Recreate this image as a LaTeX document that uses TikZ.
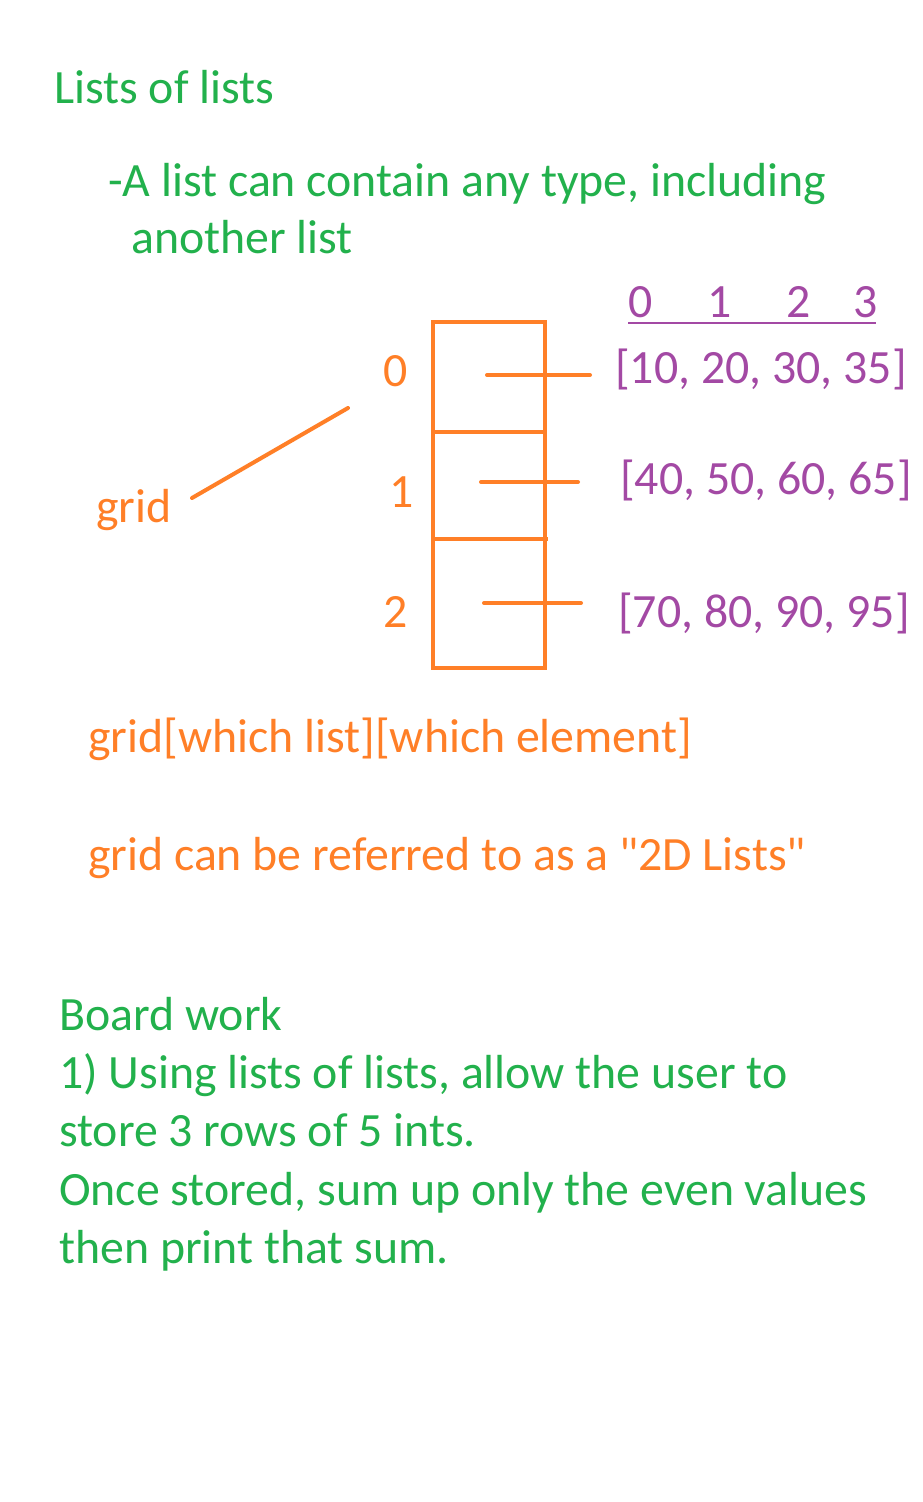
\documentclass[tikz,border=0pt]{standalone}
\usepackage{fontspec}
\setmainfont{Carlito}[Ligatures=TeXOff]
\definecolor{pgreen}{HTML}{22B14C}
\definecolor{porange}{HTML}{FF7F27}
\definecolor{ppurple}{HTML}{A349A4}
\begin{document}
\begin{tikzpicture}[x=1pt,y=-1pt,
  txt/.style={anchor=base west,inner sep=0pt,font=\fontsize{47.8}{56}\selectfont},
  gtxt/.style={txt,text=pgreen},
  otxt/.style={txt,text=porange},
  ptxt/.style={txt,text=ppurple},
  oline/.style={draw=porange,line width=4pt,line cap=round},
  boxline/.style={draw=porange,line width=4pt}]
\useasboundingbox (0,0) rectangle (923,1502);
\fill[white] (0,0) rectangle (923,1502);
% title
\node[gtxt] (title) at (54,103) {Lists of lists};
\node[gtxt] (l1) at (108,196) {-A list can contain any type, including};
\node[gtxt] (l2) at (131,253) {another list};
% index digits
\node[ptxt] (i0) at (628,317) {0};
\node[ptxt] (i1) at (707,317) {1};
\node[ptxt] (i2) at (786,317) {2};
\node[ptxt] (i3) at (853,317) {3};
\coordinate (u1) at (628,323);
\coordinate (u2) at (876,323);
\draw[ppurple,line width=2.5pt] (u1) -- (u2);
% lists
\node[ptxt] (r0) at (615,383) {[10, 20, 30, 35]};
\node[ptxt] (r1) at (620,494) {[40, 50, 60, 65]};
\node[ptxt] (r2) at (618,627) {[70, 80, 90, 95]};
% row labels
\node[otxt] (n0) at (383,386) {0};
\node[otxt] (n1) at (389,507) {1};
\node[otxt] (n2) at (383,627) {2};
% box
\draw[boxline] (433,322) rectangle (545,668);
\draw[boxline] (433,432) -- (545,432);
\draw[boxline] (433,539) -- (548,539);
% pointer lines
\coordinate (a0) at (487,375); \coordinate (b0) at (590,375);
\coordinate (a1) at (481,482); \coordinate (b1) at (578,482);
\coordinate (a2) at (484,603); \coordinate (b2) at (581,603);
\draw[oline] (a0) -- (b0);
\draw[oline] (a1) -- (b1);
\draw[oline] (a2) -- (b2);
% grid
\node[otxt] (grid) at (96,522) {grid};
\coordinate (g1) at (192,498);
\coordinate (g2) at (348,408);
\draw[oline] (g1) -- (g2);
% orange notes
\node[otxt] (acc) at (88,752) {grid[which list][which element]};
\node[otxt] (ref) at (88,870) {grid can be referred to as a "2D Lists"};
% board work
\node[gtxt] (bw) at (59,1030) {Board work};
\node[gtxt] (b1t) at (59,1088) {1) Using lists of lists, allow the user to};
\node[gtxt] (b2t) at (59,1146) {store 3 rows of 5 ints.};
\node[gtxt] (b3t) at (59,1205) {Once stored, sum up only the even values};
\node[gtxt] (b4t) at (59,1263) {then print that sum.};
\end{tikzpicture}
\end{document}
